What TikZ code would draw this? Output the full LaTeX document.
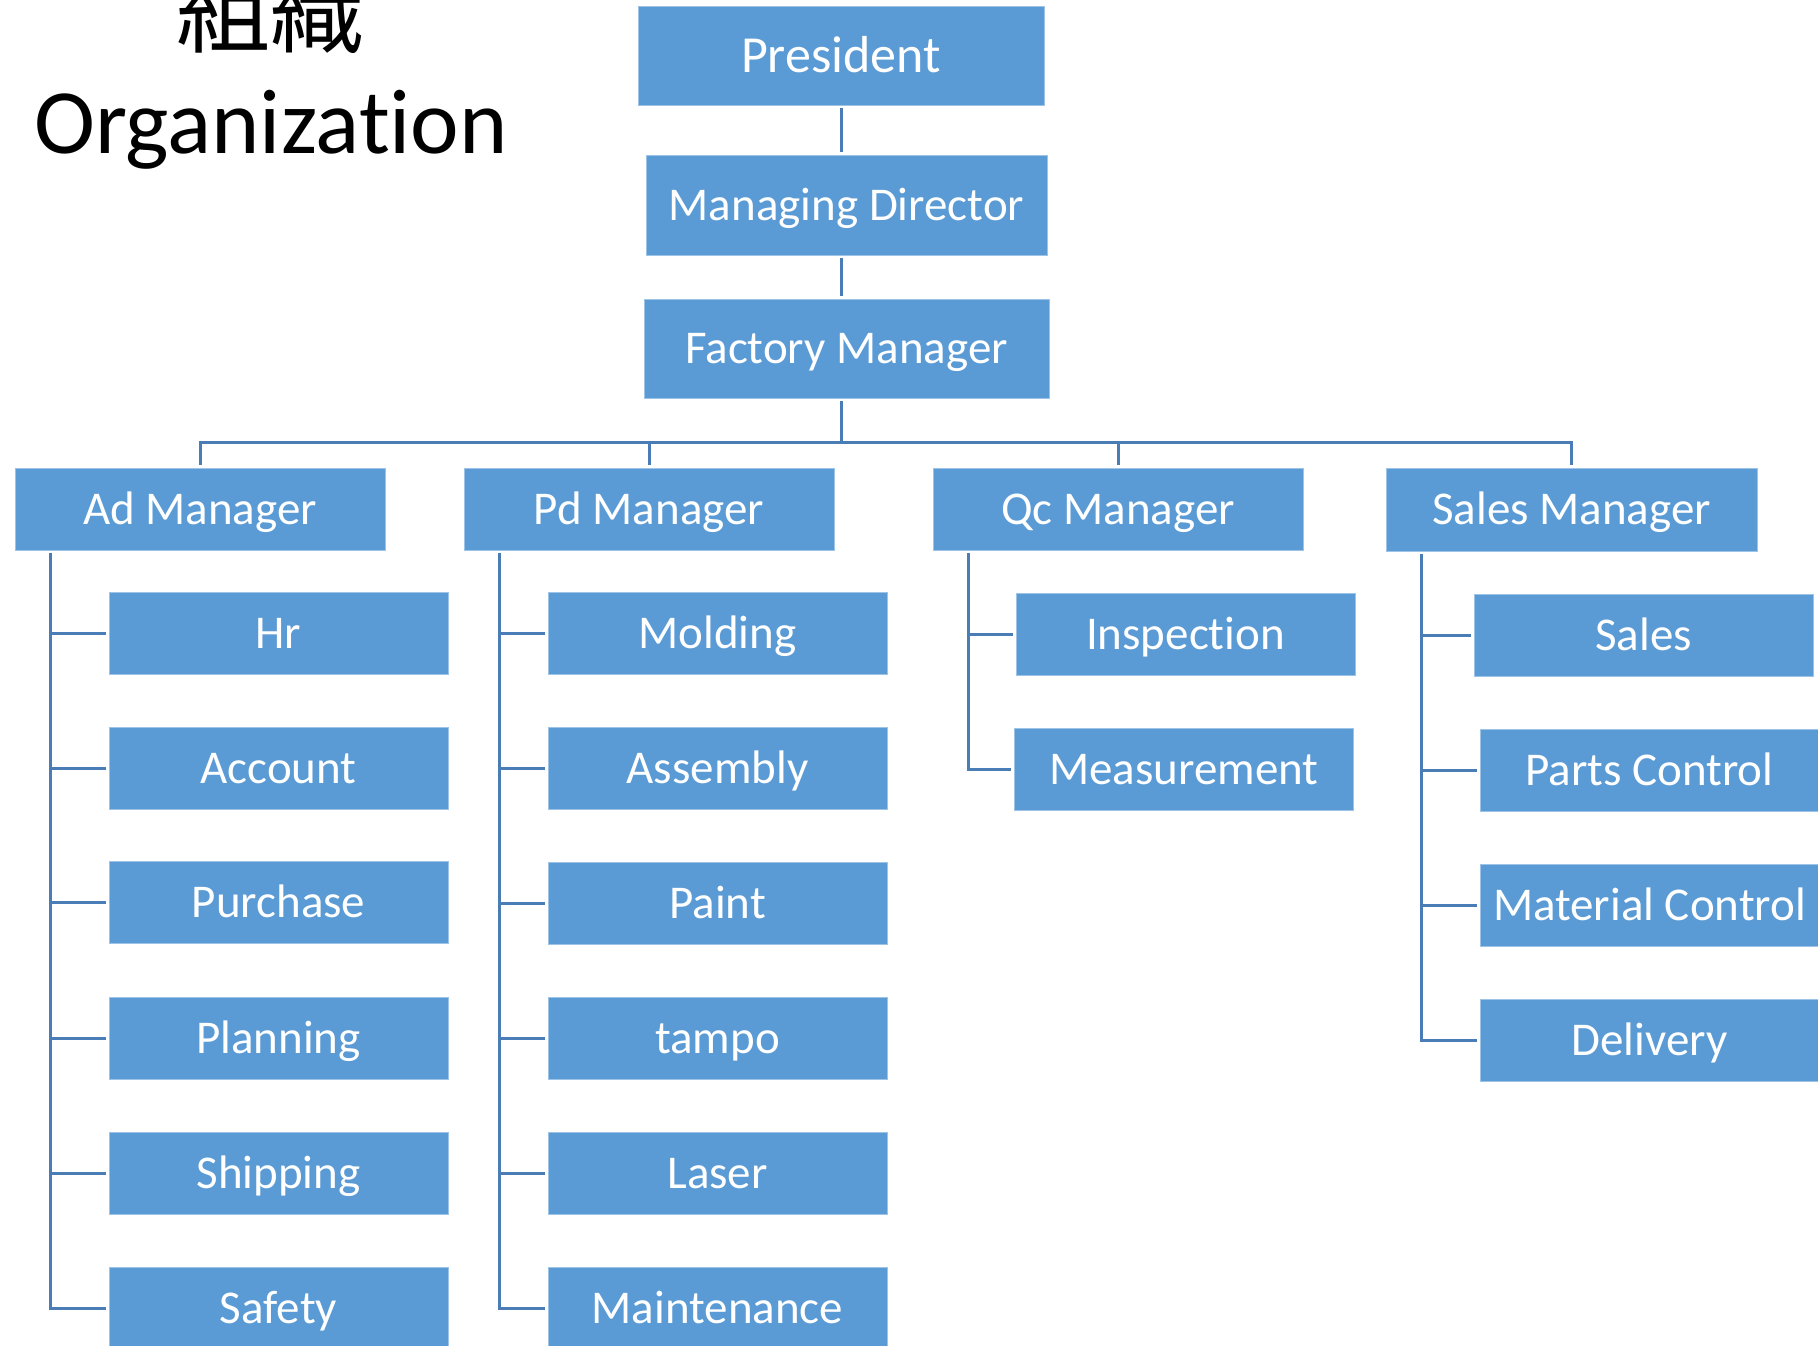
\documentclass[tikz,border=0pt]{standalone}
\usepackage{fontspec}
\setmainfont{Carlito}[Ligatures=NoCommon]
\newfontfamily\titlefont{Carlito}[Ligatures=NoCommon]
\newfontfamily\cjkfont{Noto Sans CJK JP}
\definecolor{boxblue}{HTML}{5B9BD5}
\definecolor{boxedge}{HTML}{9DC3E6}
\definecolor{linkblue}{HTML}{4A7DB6}
\begin{document}
\begin{tikzpicture}[x=1pt,y=-1pt,
  orgbox/.style={rectangle, fill=boxblue, draw=boxedge, line width=0.8pt,
    text=white, inner sep=0pt, text height=30pt, text depth=0pt,
    font=\fontsize{47}{56}\selectfont},
  topbox/.style={orgbox, minimum width=#1, minimum height=99pt},
  mgrbox/.style={orgbox, minimum width=370pt, minimum height=82pt},
  subbox/.style={orgbox, minimum width=339pt, minimum height=82pt},
  link/.style={draw=linkblue, line width=3pt, line join=miter},
  gap/.style={shorten <=3pt, shorten >=3pt},
  gapend/.style={shorten >=3pt}]
\useasboundingbox (0,0) rectangle (1818,1345);
\clip (0,0) rectangle (1818,1345);

% title
\node[anchor=base, inner sep=0pt, font=\cjkfont\fontsize{94}{100}\selectfont] (tcjk) at (270,45) {組織};
\node[anchor=base, inner sep=0pt, font=\titlefont\fontsize{92}{100}\selectfont] (tlat) at (271,153) {Organization};

% top chain
\node[topbox=406pt, font=\fontsize{52}{60}\selectfont, text height=33pt] (pres) at (841,55.5) {President};
\node[topbox=401pt, minimum height=100pt] (md) at (846.5,205) {Managing Director};
\node[topbox=405pt] (fm) at (846.5,348.5) {Factory Manager};

% managers
\node[mgrbox] (ad) at (200,509) {Ad Manager};
\node[mgrbox] (pd) at (649,509) {Pd Manager};
\node[mgrbox] (qc) at (1118,509) {Qc Manager};
\node[mgrbox, minimum width=371pt, minimum height=83pt] (sm) at (1571.5,509.5) {Sales Manager};

% Ad children
\node[subbox] (hr)   at (278.5,633)    {Hr};
\node[subbox] (acc)  at (278.5,768)    {Account};
\node[subbox] (pur)  at (278.5,902.5)  {Purchase};
\node[subbox] (pla)  at (278.5,1038)   {Planning};
\node[subbox] (shi)  at (278.5,1173.5) {Shipping};
\node[subbox] (saf)  at (278.5,1308)   {Safety};

% Pd children
\node[subbox] (mol)  at (717.5,633.5)  {Molding};
\node[subbox] (ass)  at (717.5,768)    {Assembly};
\node[subbox] (pai)  at (717.5,903)    {Paint};
\node[subbox] (tam)  at (717.5,1038)   {tampo};
\node[subbox] (las)  at (717.5,1173.5) {Laser};
\node[subbox] (mai)  at (717.5,1308)   {Maintenance};

% Qc children
\node[subbox] (ins)  at (1185.5,634.5) {Inspection};
\node[subbox] (mea)  at (1184,769)     {Measurement};

% Sales children
\node[subbox] (sal)  at (1643.5,635)   {Sales};
\node[subbox] (par)  at (1649.5,770)   {Parts Control};
\node[subbox] (mat)  at (1649.5,905)   {Material Control};
\node[subbox] (del)  at (1649.5,1040.5){Delivery};

% connectors: top chain
\coordinate (bus) at (841,442);
\draw[link, gap] (pres.south) -- (pres.south |- md.north);
\draw[link, gap] (pres.south |- md.south) -- (pres.south |- fm.north);
\draw[link, shorten <=3pt] (pres.south |- fm.south) -- (pres.south |- bus);
\draw[link, gap] (ad.north) -- (ad.north |- bus) -- (sm.north |- bus) -- (sm.north);
\draw[link, gapend] (pd.north |- bus) -- (pd.north);
\draw[link, gapend] (qc.north |- bus) -- (qc.north);

% spines
\coordinate (adsp) at ([xshift=36pt]ad.south west);
\coordinate (pdsp) at ([xshift=36pt]pd.south west);
\coordinate (qcsp) at ([xshift=36pt]qc.south west);
\coordinate (smsp) at ([xshift=36pt]sm.south west);

\draw[link, gap] (adsp) |- (saf.west);
\foreach \c in {hr,acc,pur,pla,shi} \draw[link, gapend] (adsp |- \c.west) -- (\c.west);
\draw[link, gap] (pdsp) |- (mai.west);
\foreach \c in {mol,ass,pai,tam,las} \draw[link, gapend] (pdsp |- \c.west) -- (\c.west);
\draw[link, gap] (qcsp) |- (mea.west);
\draw[link, gapend] (qcsp |- ins.west) -- (ins.west);
\draw[link, gap] (smsp) |- (del.west);
\foreach \c in {sal,par,mat} \draw[link, gapend] (smsp |- \c.west) -- (\c.west);
\end{tikzpicture}
\end{document}
